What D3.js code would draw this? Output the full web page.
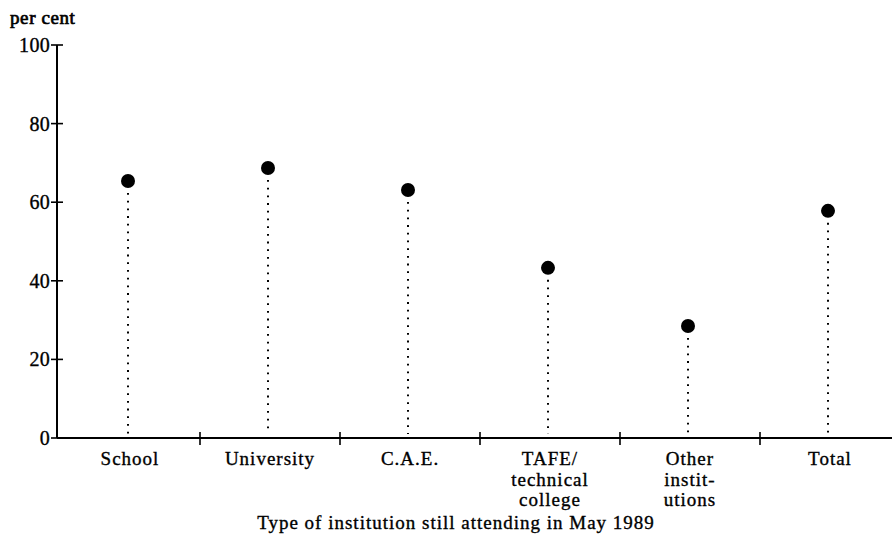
<!DOCTYPE html>
<meta charset="utf-8">
<title>Type of institution still attending in May 1989</title>
<style>
body { margin: 0; background: #fff; }
svg text { font-family: "Liberation Serif", "DejaVu Serif", serif; fill: #000; stroke: #000; stroke-width: 0.35px; }
.axis path, .axis line { stroke: #000; }
.stem { stroke: #000; stroke-width: 2px; stroke-dasharray: 1.8 5.9; }
</style>
<svg id="chart" width="892" height="540"></svg>
<script src="https://cdn.jsdelivr.net/npm/d3@7"></script>
<script>
// values
const categories = ["School", "University", "C.A.E.", "TAFE/\ntechnical\ncollege", "Other\ninstit-\nutions", "Total"];
const values = [65.4, 68.7, 63.1, 43.3, 28.5, 57.8];
const yTicks = [0, 20, 40, 60, 80, 100];

let svg = d3.select("#chart"),
    x0 = 60, x1 = 900,
    yTop = 45, yBottom = 438;

let x = d3.scaleBand().domain(categories).range([x0, x1]),
    y = d3.scaleLinear().domain([0, 100]).range([yBottom, yTop]);

let cx = c => x(c) + x.bandwidth() / 2 - 2;

// y axis
let yAxis = svg.append("g").attr("class", "axis axis--y");
yAxis.append("line")
    .attr("x1", 57).attr("x2", 57)
    .attr("y1", y(100)).attr("y2", y(0))
    .style("stroke-width", 2);
yTicks.forEach(t => {
  yAxis.append("line")
      .attr("x1", 51).attr("x2", 63)
      .attr("y1", y(t)).attr("y2", y(t))
      .style("stroke-width", 1.6);
  yAxis.append("text")
      .attr("x", 50).attr("y", y(t))
      .attr("dy", "0.35em")
      .attr("text-anchor", "end")
      .style("font-size", "20px")
      .style("letter-spacing", "0.3px")
      .text(t);
});

svg.append("text")
    .attr("x", 10).attr("y", 24)
    .style("font-size", "19px")
    .style("letter-spacing", "0.6px")
    .style("stroke-width", "0.7px")
    .text("per cent");

// x axis
let xAxis = svg.append("g").attr("class", "axis axis--x");
xAxis.append("line")
    .attr("x1", 57).attr("x2", 892)
    .attr("y1", y(0)).attr("y2", y(0))
    .style("stroke-width", 2);
categories.slice(1).forEach(c => {
  let xt = x(c);
  xAxis.append("line")
      .attr("x1", xt).attr("x2", xt)
      .attr("y1", y(0) - 6).attr("y2", y(0) + 7)
      .style("stroke-width", 1.6);
});

categories.forEach(c => {
  let lines = c.split("\n");
  let t = svg.append("text")
      .attr("text-anchor", "middle")
      .attr("y", 465)
      .style("font-size", "19px")
      .style("letter-spacing", "1px");
  lines.forEach((l, i) => {
    t.append("tspan")
        .attr("x", cx(c) + 2)
        .attr("dy", i === 0 ? 0 : 20.5)
        .text(l);
  });
});

svg.append("text")
    .attr("x", 456).attr("y", 529)
    .attr("text-anchor", "middle")
    .style("font-size", "19px")
    .style("letter-spacing", "1px")
    .text("Type of institution still attending in May 1989");

// stems and dots
let pts = svg.append("g").selectAll("g")
  .data(categories.map((c, i) => ({ cat: c, value: values[i] })))
  .enter().append("g");

pts.append("line")
    .attr("class", "stem")
    .attr("x1", d => cx(d.cat))
    .attr("x2", d => cx(d.cat))
    .attr("y1", d => y(d.value) + 12)
    .attr("y2", y(0) - 4);

pts.append("circle")
    .attr("cx", d => cx(d.cat))
    .attr("cy", d => y(d.value))
    .attr("r", 7)
    .attr("fill", "#000");
</script>
